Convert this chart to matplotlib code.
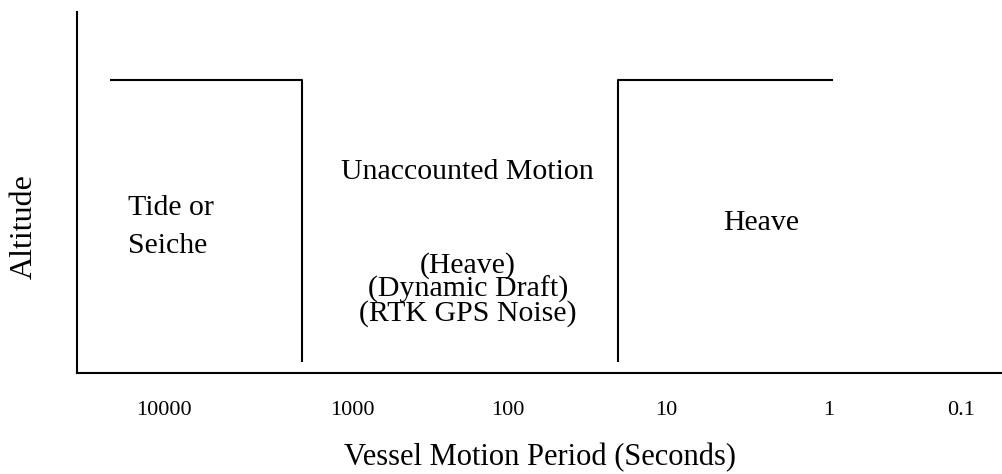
import matplotlib.pyplot as plt

# font like Times
plt.rcParams['font.family'] = ['Liberation Serif', 'DejaVu Serif']

# x axis labels (period, seconds) and where they sit on the 0-100 axis
period_labels = ['10000', '1000', '100', '10', '1', '0.1']
period_pos = [9.4, 29.7, 46.5, 63.6, 81.2, 95.5]

# step outlines of the two bands
tide_x = [3.6, 24.3, 24.3]
tide_y = [81.2, 81.2, 3.0]
heave_x = [58.4, 58.4, 81.6]
heave_y = [3.0, 81.2, 81.2]

# band texts
tide_text = 'Tide or\nSeiche'
middle_title = 'Unaccounted Motion'
middle_items = ['(Heave)', '(Dynamic Draft)', '(RTK GPS Noise)']
heave_text = 'Heave'

fig = plt.figure(figsize=(10.03, 4.74), dpi=100)
ax = fig.add_axes([77 / 1003, 101 / 474, 926 / 1003, 361 / 474])

ax.plot(tide_x, tide_y, color='black', lw=1.5, solid_capstyle='butt')
ax.plot(heave_x, heave_y, color='black', lw=1.5, solid_capstyle='butt')

ax.set_xlim(0, 100)
ax.set_ylim(0, 100)

# text inside the bands
ax.text(5.5, 40.5, tide_text, ha='left', va='center', fontsize=21.5, linespacing=1.6)
ax.text(42.2, 55.7, middle_title, ha='center', va='center', fontsize=21.5)
ax.text(42.2, 23.2, '\n'.join(middle_items), ha='center', va='center', fontsize=21.5,
        linespacing=0.86)
ax.text(73.9, 41.6, heave_text, ha='center', va='center', fontsize=21.5)

# axes look
ax.spines['top'].set_visible(False)
ax.spines['right'].set_visible(False)
ax.spines['left'].set_linewidth(1.5)
ax.spines['bottom'].set_linewidth(1.5)
ax.set_yticks([])
ax.set_xticks(period_pos)
ax.set_xticklabels(period_labels, fontsize=16)
ax.tick_params(axis='x', length=0, pad=20)

ax.set_xlabel('Vessel Motion Period (Seconds)', fontsize=22, va='center')
ax.xaxis.set_label_coords(0.5, -0.235)
ax.set_ylabel('Altitude', fontsize=23, va='center')
ax.yaxis.set_label_coords(-0.057, 0.407)

plt.savefig('out.png', dpi=100)
